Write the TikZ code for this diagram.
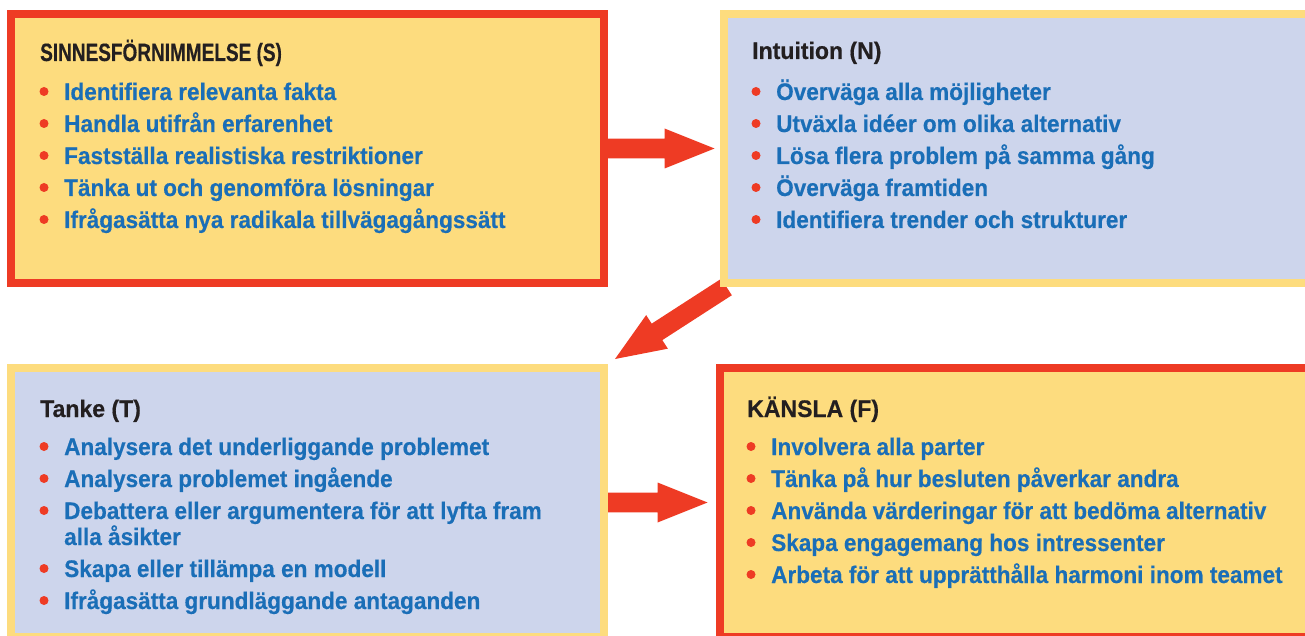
\documentclass[tikz,border=0pt]{standalone}
\usepackage{fontspec}
\setmainfont{Liberation Sans}
\newfontfamily\itemfont{Liberation Sans}[FakeStretch=0.94,FakeBold=0.4]
\newfontfamily\titlefont{Liberation Sans}[FakeStretch=0.96,FakeBold=0.4]
\newfontfamily\titlefontnarrow{Liberation Sans}[FakeStretch=0.76,FakeBold=0.4]
\usetikzlibrary{calc}
\definecolor{cred}{HTML}{EE3B24}
\definecolor{cyellow}{HTML}{FDDC7E}
\definecolor{clav}{HTML}{CDD5EC}
\definecolor{cblue}{HTML}{1A6EB7}
\definecolor{cblack}{HTML}{231F20}
\pgfdeclarelayer{bg}
\pgfsetlayers{bg,main}
\tikzset{
  boxstyle/.style={rectangle, line width=8pt, minimum width=593pt, minimum height=269pt, inner sep=0pt},
  redbox/.style={boxstyle, draw=cred, fill=cyellow},
  yelbox/.style={boxstyle, draw=cyellow, fill=clav},
  titletext/.style={anchor=base west, inner sep=0pt, text=cblack, font=\titlefont\bfseries\fontsize{24}{24}\selectfont},
  titlenarrow/.style={titletext, font=\titlefontnarrow\bfseries\fontsize{25}{25}\selectfont},
  itemtext/.style={anchor=base west, inner sep=0pt, text=cblue, font=\itemfont\bfseries\fontsize{24}{24}\selectfont},
  dot/.style={circle, fill=cred, minimum size=9pt, inner sep=0pt},
  arrowfill/.style={fill=cred}
}
\newcommand\itemline[4]{%
  \node[dot] (#1-b) at (#2-20,#3-8.5) {};
  \node[itemtext] (#1) at (#2,#3) {#4};}
\newcommand\blockarrow[3]{%
  \coordinate (#3-h) at ($(#2)!50pt!(#1)$);
  \fill[arrowfill] ($(#1)!9.8pt!90:(#2)$) -- ($(#3-h)!9.8pt!90:(#2)$) -- ($(#3-h)!20pt!90:(#2)$) -- (#2)
    -- ($(#3-h)!20pt!-90:(#2)$) -- ($(#3-h)!9.8pt!-90:(#2)$) -- ($(#1)!9.8pt!-90:(#2)$) -- cycle;}
\begin{document}
\begin{tikzpicture}[x=1pt,y=-1pt]
\useasboundingbox (0,0) rectangle (1305,636);
\clip (0,0) rectangle (1305,636);
% boxes
\node[redbox] (S) at (307,148.5) {};
\node[yelbox] (N) at (1020,148.5) {};
\node[yelbox] (T) at (307.5,502.5) {};
\node[redbox] (F) at (1016,502.5) {};
% arrows
\coordinate (a1s) at (S.east);
\coordinate (a1t) at ($(N.west)+(-5,0)$);
\coordinate (a2s) at ($(N.south west)+(7,0)$);
\coordinate (a2t) at ($(T.north east)+(7,-5)$);
\coordinate (a3s) at (T.east);
\coordinate (a3t) at ($(F.west)+(-8,0)$);
\begin{pgfonlayer}{bg}
\blockarrow{a1s}{a1t}{ar1}
\blockarrow{a2s}{a2t}{ar2}
\blockarrow{a3s}{a3t}{ar3}
\end{pgfonlayer}
% S
\node[titlenarrow] (S-title) at (40,61) {SINNESFÖRNIMMELSE (S)};
\itemline{S1}{64}{100}{Identifiera relevanta fakta}
\itemline{S2}{64}{132}{Handla utifrån erfarenhet}
\itemline{S3}{64}{164}{Fastställa realistiska restriktioner}
\itemline{S4}{64}{196}{Tänka ut och genomföra lösningar}
\itemline{S5}{64}{228}{Ifrågasätta nya radikala tillvägagångssätt}
% N
\node[titletext] (N-title) at (752,59) {Intuition (N)};
\itemline{N1}{776}{100}{Överväga alla möjligheter}
\itemline{N2}{776}{132}{Utväxla idéer om olika alternativ}
\itemline{N3}{776}{164}{Lösa flera problem på samma gång}
\itemline{N4}{776}{196}{Överväga framtiden}
\itemline{N5}{776}{228}{Identifiera trender och strukturer}
% T
\node[titletext] (T-title) at (40,417) {Tanke (T)};
\itemline{T1}{64}{455}{Analysera det underliggande problemet}
\itemline{T2}{64}{487}{Analysera problemet ingående}
\itemline{T3}{64}{519}{Debattera eller argumentera för att lyfta fram}
\node[itemtext] (T3b) at (64,545) {alla åsikter};
\itemline{T4}{64}{577}{Skapa eller tillämpa en modell}
\itemline{T5}{64}{609}{Ifrågasätta grundläggande antaganden}
% F
\node[titletext] (F-title) at (747,417) {KÄNSLA (F)};
\itemline{F1}{771}{455}{Involvera alla parter}
\itemline{F2}{771}{487}{Tänka på hur besluten påverkar andra}
\itemline{F3}{771}{519}{Använda värderingar för att bedöma alternativ}
\itemline{F4}{771}{551}{Skapa engagemang hos intressenter}
\itemline{F5}{771}{583}{Arbeta för att upprätthålla harmoni inom teamet}
\end{tikzpicture}
\end{document}
